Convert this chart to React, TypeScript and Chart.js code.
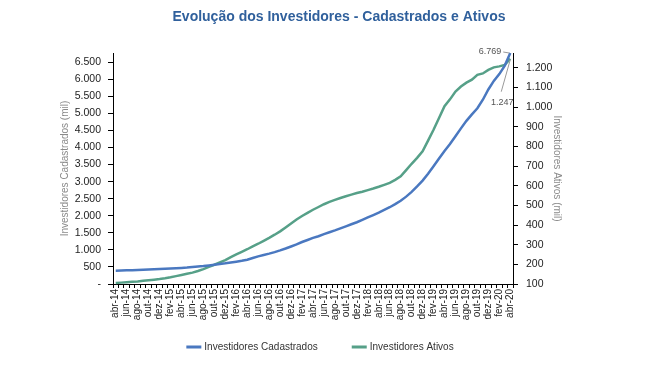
import React, { useEffect, useRef } from 'react';
import { Chart, registerables } from 'chart.js';
Chart.register(...registerables);

const categories = [
  'abr-14','mai-14','jun-14','jul-14','ago-14','set-14','out-14','nov-14','dez-14',
  'jan-15','fev-15','mar-15','abr-15','mai-15','jun-15','jul-15','ago-15','set-15','out-15','nov-15','dez-15',
  'jan-16','fev-16','mar-16','abr-16','mai-16','jun-16','jul-16','ago-16','set-16','out-16','nov-16','dez-16',
  'jan-17','fev-17','mar-17','abr-17','mai-17','jun-17','jul-17','ago-17','set-17','out-17','nov-17','dez-17',
  'jan-18','fev-18','mar-18','abr-18','mai-18','jun-18','jul-18','ago-18','set-18','out-18','nov-18','dez-18',
  'jan-19','fev-19','mar-19','abr-19','mai-19','jun-19','jul-19','ago-19','set-19','out-19','nov-19','dez-19',
  'jan-20','fev-20','mar-20','abr-20',
];

const cadastrados = [
  390, 395, 400, 405, 410, 418, 425, 432, 440,
  447, 455, 462, 470, 480, 495, 510, 525, 545, 565, 585, 605,
  630, 655, 680, 710, 760, 810, 850, 890, 935, 985, 1040, 1100,
  1160, 1230, 1290, 1350, 1400, 1460, 1515, 1570, 1630, 1690, 1750, 1810,
  1880, 1950, 2020, 2090, 2170, 2250, 2340, 2440, 2560, 2700, 2860, 3030,
  3230, 3450, 3680, 3900, 4100, 4330, 4560, 4780, 4970, 5150, 5400, 5700,
  5950, 6150, 6400, 6769,
];

const ativos = [
  105, 107, 109, 111, 113, 116, 119, 122, 125,
  129, 134, 140, 146, 152, 158, 166, 176, 187, 198, 210, 222,
  237, 251, 264, 277, 292, 305, 320, 335, 351, 368, 388, 408,
  428, 446, 462, 478, 492, 506, 518, 528, 538, 547, 555, 563,
  570, 578, 586, 595, 605, 615, 630, 648, 680, 712, 742, 775,
  830, 885, 945, 1005, 1040, 1080, 1105, 1125, 1140, 1165, 1172, 1190,
  1203, 1208, 1215, 1247,
];

const leftTicks = [0, 500, 1000, 1500, 2000, 2500, 3000, 3500, 4000, 4500, 5000, 5500, 6000, 6500];
const rightTicks = [100, 200, 300, 400, 500, 600, 700, 800, 900, 1000, 1100, 1200];
const leftMax = 6769;
const rightMin = 100;
const rightMax = 1276;

const TITLE = 'Evolução dos Investidores - Cadastrados e Ativos';
const BLUE = '#4a78c0';
const GREEN = '#56a088';
const FONT = '"Liberation Sans", Arial, sans-serif';

const fmt = (v: number) => String(Math.round(v)).replace(/\B(?=(\d{3})+(?!\d))/g, '.');

const endLabels = {
  id: 'endLabels',
  afterDatasetsDraw(chart: any) {
    const ctx = chart.ctx;
    const m0 = chart.getDatasetMeta(0);
    const m1 = chart.getDatasetMeta(1);
    const p0 = m0.data[m0.data.length - 1];
    const p1 = m1.data[m1.data.length - 1];
    ctx.save();
    ctx.font = '9px ' + FONT;
    ctx.fillStyle = '#555';
    ctx.strokeStyle = '#999';
    ctx.lineWidth = 1;
    ctx.textAlign = 'right';
    ctx.textBaseline = 'middle';
    ctx.fillText(fmt(cadastrados[cadastrados.length - 1]), p0.x - 9, p0.y - 1);
    ctx.beginPath();
    ctx.moveTo(p0.x - 7, p0.y - 1);
    ctx.lineTo(p0.x - 1, p0.y);
    ctx.stroke();
    ctx.textAlign = 'center';
    ctx.fillText(fmt(ativos[ativos.length - 1]), p1.x - 8, p1.y + 44);
    ctx.beginPath();
    ctx.moveTo(p1.x - 9, p1.y + 33);
    ctx.lineTo(p1.x, p1.y + 1);
    ctx.stroke();
    ctx.restore();
  },
};

const topTitle = {
  id: 'topTitle',
  afterDraw(chart: any) {
    const ctx = chart.ctx;
    ctx.save();
    ctx.font = 'bold 14px ' + FONT;
    ctx.fillStyle = '#30609c';
    ctx.textAlign = 'center';
    ctx.textBaseline = 'middle';
    ctx.fillText(TITLE, 339, 17);
    ctx.restore();
  },
};

// Legend drawn from the datasets' own labels and colours, with Excel-like spacing
const bottomLegend = {
  id: 'bottomLegend',
  afterDraw(chart: any) {
    const ctx = chart.ctx;
    const ds = chart.data.datasets;
    const box = 15, gapBoxText = 3, gapItems = 34;
    ctx.save();
    ctx.font = '10px ' + FONT;
    ctx.textBaseline = 'middle';
    ctx.textAlign = 'left';
    const widths = ds.map((d: any) => box + gapBoxText + ctx.measureText(d.label).width);
    const total = widths.reduce((a: number, b: number) => a + b, 0) + gapItems * (ds.length - 1);
    let x = 320 - total / 2;
    const y = 347;
    ds.forEach((d: any, i: number) => {
      ctx.fillStyle = d.borderColor;
      ctx.fillRect(x, y - 1.5, box, 3);
      ctx.fillStyle = '#333';
      ctx.fillText(d.label, x + box + gapBoxText, y);
      x += widths[i] + gapItems;
    });
    ctx.restore();
  },
};

export default function App() {
  const ref = useRef<HTMLCanvasElement | null>(null);
  useEffect(() => {
    if (!ref.current) return;
    const chart = new Chart(ref.current, {
      type: 'line',
      data: {
        labels: categories,
        datasets: [
          {
            label: 'Investidores Cadastrados',
            data: cadastrados,
            borderColor: BLUE,
            backgroundColor: BLUE,
            borderWidth: 2.5,
            pointRadius: 0,
            tension: 0,
            yAxisID: 'y',
            clip: false as any,
          },
          {
            label: 'Investidores Ativos',
            data: ativos,
            borderColor: GREEN,
            backgroundColor: GREEN,
            borderWidth: 2.5,
            pointRadius: 0,
            tension: 0,
            yAxisID: 'y1',
            clip: false as any,
          },
        ],
      },
      options: {
        animation: false,
        responsive: false,
        maintainAspectRatio: false,
        layout: { padding: { left: 55, right: 82, top: 53, bottom: 34 } },
        plugins: {
          title: { display: false },
          legend: { display: false },
          tooltip: { enabled: false },
        },
        scales: {
          x: {
            offset: true,
            afterFit(scale: any) {
              scale.height = 47;
            },
            grid: { display: true, drawOnChartArea: false, offset: true, tickLength: 4, color: '#000' },
            border: { color: '#000', width: 1 },
            ticks: {
              autoSkip: false,
              maxRotation: 90,
              minRotation: 90,
              padding: 1,
              color: '#222',
              font: { family: FONT, size: 10 },
              callback(_v: any, i: number) {
                return i % 2 === 0 ? categories[i] : '';
              },
            },
          },
          y: {
            position: 'left',
            min: 0,
            max: leftMax,
            afterBuildTicks(scale: any) {
              scale.ticks = leftTicks.map((v) => ({ value: v }));
            },
            afterFit(scale: any) {
              scale.width = 58;
            },
            grid: { display: true, drawOnChartArea: false, tickLength: 5, color: '#000' },
            border: { color: '#000', width: 1 },
            ticks: {
              padding: 7,
              color: '#222',
              font: { family: FONT, size: 10.5 },
              callback(v: any) {
                return v === 0 ? '-' : fmt(Number(v));
              },
            },
            title: {
              display: true,
              text: 'Investidores Cadastrados (mil)',
              color: '#8a8a8a',
              font: { family: FONT, size: 10 },
            },
          },
          y1: {
            position: 'right',
            min: rightMin,
            max: rightMax,
            afterBuildTicks(scale: any) {
              scale.ticks = rightTicks.map((v) => ({ value: v }));
            },
            afterFit(scale: any) {
              scale.width = 54;
            },
            grid: { display: true, drawOnChartArea: false, tickLength: 5, color: '#000' },
            border: { color: '#000', width: 1 },
            ticks: {
              padding: 8,
              color: '#222',
              font: { family: FONT, size: 10.5 },
              callback(v: any) {
                return fmt(Number(v));
              },
            },
            title: {
              display: true,
              text: 'Investidores Ativos (mil)',
              color: '#8a8a8a',
              font: { family: FONT, size: 10 },
            },
          },
        },
      },
      plugins: [endLabels, topTitle, bottomLegend],
    } as any);
    return () => chart.destroy();
  }, []);
  return (
    <div style={{ position: 'fixed', left: 0, top: 0, width: 649, height: 365, background: '#fff' }}>
      <canvas ref={ref} width={649} height={365} style={{ width: 649, height: 365 }} />
    </div>
  );
}
